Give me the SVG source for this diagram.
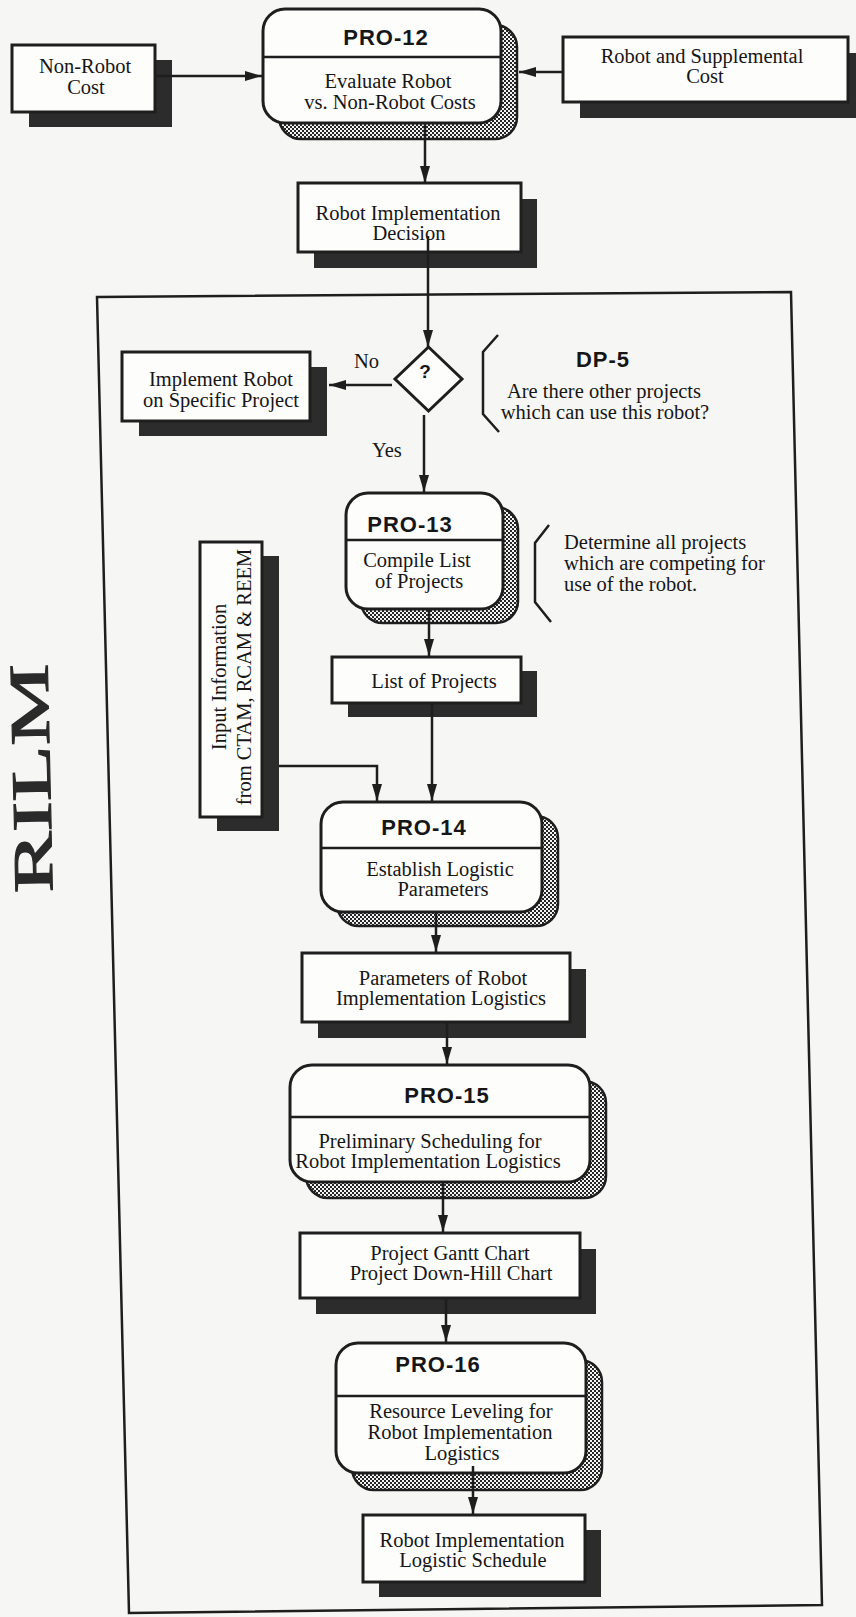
<svg xmlns="http://www.w3.org/2000/svg" width="856" height="1617" viewBox="0 0 856 1617">
  <style>
    .box { fill: #fdfdfc; stroke: #1e1e1e; stroke-width: 3; }
    .shadow { fill: #2c2c2c; }
    .dotshadow { fill: url(#checker); stroke: #1e1e1e; stroke-width: 2.5; }
    .divider { stroke: #1e1e1e; stroke-width: 2.5; }
    .txt { font-family: "Liberation Serif", "Times New Roman", serif; font-size: 20.5px; fill: #161616; text-anchor: middle; }
    .left { text-anchor: start; }
    .hdr { font-family: "Liberation Sans", Arial, sans-serif; font-weight: bold; font-size: 22px; letter-spacing: 1px; fill: #161616; text-anchor: middle; }
    .conn { fill: none; stroke: #1e1e1e; stroke-width: 2.5; }
    .brace { fill: none; stroke: #1e1e1e; stroke-width: 2.5; stroke-linejoin: miter; }
  </style>
  <defs>
    <pattern id="checker" width="4" height="4" patternUnits="userSpaceOnUse">
      <rect width="4" height="4" fill="#f4f4f4"/>
      <rect width="2" height="2" fill="#262626"/>
      <rect x="2" y="2" width="2" height="2" fill="#262626"/>
    </pattern>
    <marker id="arrow" markerUnits="userSpaceOnUse" markerWidth="17" markerHeight="10" refX="17" refY="5" orient="auto">
      <path d="M0,0 L17,5 L0,10 z" fill="#1e1e1e"/>
    </marker>
  </defs>

  <rect width="856" height="1617" fill="#f6f6f4"/>

  <!-- side title, set on its side along the left margin -->
  <text transform="translate(50,778) rotate(-91.3)" font-family="'Liberation Serif', 'Times New Roman', serif" font-size="56" fill="#2a2a2a" stroke="#2a2a2a" stroke-width="1.2" text-anchor="middle" textLength="229" lengthAdjust="spacingAndGlyphs">RILM</text>

  <!-- enclosing frame -->
  <polygon points="97,297 791,292 822,1605 129,1613" fill="none" stroke="#1e1e1e" stroke-width="2.5"/>

  <!-- Non-Robot Cost -->
  <g id="non-robot-cost">
    <rect class="shadow" x="29" y="60" width="143" height="67"/>
    <rect class="box" x="12" y="45" width="143" height="67"/>
    <text class="txt" x="85" y="73">Non-Robot</text>
    <text class="txt" x="86" y="94">Cost</text>
  </g>

  <!-- PRO-12 -->
  <g id="pro-12">
    <rect class="dotshadow" x="279" y="25" width="238" height="114" rx="22"/>
    <rect class="box" x="263" y="9" width="238" height="114" rx="22"/>
    <line class="divider" x1="263" y1="57" x2="501" y2="57"/>
    <text class="hdr" x="386" y="45">PRO-12</text>
    <text class="txt" x="388" y="88">Evaluate Robot</text>
    <text class="txt" x="390" y="109">vs. Non-Robot Costs</text>
  </g>

  <!-- Robot and Supplemental Cost -->
  <g id="robot-supplemental-cost">
    <rect class="shadow" x="580" y="53" width="285" height="65"/>
    <rect class="box" x="563" y="37" width="285" height="65"/>
    <text class="txt" x="702" y="63">Robot and Supplemental</text>
    <text class="txt" x="705" y="83">Cost</text>
  </g>

  <!-- Robot Implementation Decision -->
  <g id="robot-implementation-decision">
    <rect class="shadow" x="314" y="199" width="223" height="69"/>
    <rect class="box" x="298" y="183" width="223" height="69"/>
    <text class="txt" x="408" y="220">Robot Implementation</text>
    <text class="txt" x="409" y="240">Decision</text>
  </g>

  <!-- DP-5 decision -->
  <g id="dp-5">
    <polygon points="428.5,347 462,379 428.5,411 395,379" fill="#fdfdfc" stroke="#1e1e1e" stroke-width="3"/>
    <text font-family="'Liberation Sans', Arial, sans-serif" font-weight="bold" font-size="19" fill="#161616" text-anchor="middle" x="425" y="378">?</text>
  </g>

  <g id="dp-5-note">
    <polyline class="brace" points="498,335 483,352 483,414 499,432"/>
    <text class="hdr" x="603" y="367">DP-5</text>
    <text class="txt" x="604" y="398">Are there other projects</text>
    <text class="txt" x="605" y="419">which can use this robot?</text>
  </g>

  <!-- Implement Robot on Specific Project -->
  <g id="implement-robot">
    <rect class="shadow" x="139" y="367" width="188" height="69"/>
    <rect class="box" x="122" y="352" width="188" height="69"/>
    <text class="txt" x="221" y="386">Implement Robot</text>
    <text class="txt" x="221" y="407">on Specific Project</text>
  </g>

  <!-- PRO-13 -->
  <g id="pro-13">
    <rect class="dotshadow" x="361" y="507" width="157" height="116" rx="22"/>
    <rect class="box" x="346" y="493" width="157" height="116" rx="22"/>
    <line class="divider" x1="346" y1="540" x2="503" y2="540"/>
    <text class="hdr" x="410" y="532">PRO-13</text>
    <text class="txt" x="417" y="567">Compile List</text>
    <text class="txt" x="419" y="588">of Projects</text>
  </g>

  <g id="pro-13-note">
    <polyline class="brace" points="549,525 535,543 535,602 551,622"/>
    <text class="txt left" x="564" y="549">Determine all projects</text>
    <text class="txt left" x="564" y="570">which are competing for</text>
    <text class="txt left" x="564" y="591">use of the robot.</text>
  </g>

  <!-- Input Information -->
  <g id="input-information">
    <rect class="shadow" x="217" y="556" width="62" height="275"/>
    <rect class="box" x="200" y="542" width="62" height="275"/>
    <text class="txt" transform="translate(226,677) rotate(-90)">Input Information</text>
    <text class="txt" transform="translate(251,677) rotate(-90)">from CTAM, RCAM &amp; REEM</text>
  </g>

  <!-- List of Projects -->
  <g id="list-of-projects">
    <rect class="shadow" x="348" y="671" width="189" height="46"/>
    <rect class="box" x="332" y="657" width="189" height="46"/>
    <text class="txt" x="434" y="688">List of Projects</text>
  </g>

  <!-- PRO-14 -->
  <g id="pro-14">
    <rect class="dotshadow" x="337" y="816" width="221" height="110" rx="22"/>
    <rect class="box" x="321" y="802" width="221" height="110" rx="22"/>
    <line class="divider" x1="321" y1="848" x2="542" y2="848"/>
    <text class="hdr" x="424" y="835">PRO-14</text>
    <text class="txt" x="440" y="876">Establish Logistic</text>
    <text class="txt" x="443" y="896">Parameters</text>
  </g>

  <!-- Parameters of Robot Implementation Logistics -->
  <g id="parameters">
    <rect class="shadow" x="318" y="969" width="268" height="69"/>
    <rect class="box" x="302" y="953" width="268" height="69"/>
    <text class="txt" x="443" y="985">Parameters of Robot</text>
    <text class="txt" x="441" y="1005">Implementation Logistics</text>
  </g>

  <!-- PRO-15 -->
  <g id="pro-15">
    <rect class="dotshadow" x="306" y="1081" width="300" height="117" rx="22"/>
    <rect class="box" x="290" y="1065" width="300" height="117" rx="22"/>
    <line class="divider" x1="290" y1="1117" x2="590" y2="1117"/>
    <text class="hdr" x="447" y="1103">PRO-15</text>
    <text class="txt" x="430" y="1148">Preliminary Scheduling for</text>
    <text class="txt" x="428" y="1168">Robot Implementation Logistics</text>
  </g>

  <!-- Project Gantt / Down-Hill Chart -->
  <g id="gantt-chart">
    <rect class="shadow" x="316" y="1249" width="280" height="65"/>
    <rect class="box" x="300" y="1233" width="280" height="65"/>
    <text class="txt" x="450" y="1260">Project Gantt Chart</text>
    <text class="txt" x="451" y="1280">Project Down-Hill Chart</text>
  </g>

  <!-- PRO-16 -->
  <g id="pro-16">
    <rect class="dotshadow" x="352" y="1360" width="250" height="130" rx="22"/>
    <rect class="box" x="336" y="1343" width="250" height="130" rx="22"/>
    <line class="divider" x1="336" y1="1396" x2="586" y2="1396"/>
    <text class="hdr" x="438" y="1372">PRO-16</text>
    <text class="txt" x="461" y="1418">Resource Leveling for</text>
    <text class="txt" x="460" y="1439">Robot Implementation</text>
    <text class="txt" x="462" y="1460">Logistics</text>
  </g>

  <!-- Robot Implementation Logistic Schedule -->
  <g id="logistic-schedule">
    <rect class="shadow" x="379" y="1530" width="222" height="67"/>
    <rect class="box" x="363" y="1515" width="222" height="67"/>
    <text class="txt" x="472" y="1547">Robot Implementation</text>
    <text class="txt" x="473" y="1567">Logistic Schedule</text>
  </g>

  <!-- connectors -->
  <g id="connectors">
    <path class="conn" d="M155,76 H262" marker-end="url(#arrow)"/>
    <path class="conn" d="M563,72 H519" marker-end="url(#arrow)"/>
    <path class="conn" d="M425,123 V183" marker-end="url(#arrow)"/>
    <path class="conn" d="M428,236 V347" marker-end="url(#arrow)"/>
    <path class="conn" d="M392,385 H329" marker-end="url(#arrow)"/>
    <path class="conn" d="M424,415 V492" marker-end="url(#arrow)"/>
    <path class="conn" d="M429,609 V656" marker-end="url(#arrow)"/>
    <path class="conn" d="M432,703 V801" marker-end="url(#arrow)"/>
    <path class="conn" d="M279,766 H377 V801" marker-end="url(#arrow)"/>
    <path class="conn" d="M436,912 V952" marker-end="url(#arrow)"/>
    <path class="conn" d="M447,1022 V1064" marker-end="url(#arrow)"/>
    <path class="conn" d="M443,1182 V1232" marker-end="url(#arrow)"/>
    <path class="conn" d="M446,1298 V1342" marker-end="url(#arrow)"/>
    <path class="conn" d="M473,1466 V1514" marker-end="url(#arrow)"/>
    <text class="txt left" x="354" y="368">No</text>
    <text class="txt left" x="372" y="457">Yes</text>
  </g>
</svg>
